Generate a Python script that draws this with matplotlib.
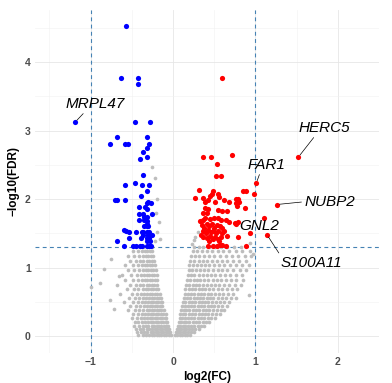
#!/usr/bin/env python3
"""Volcano plot: log2(FC) vs -log10(FDR) with labelled top genes."""

import numpy as np
import matplotlib
matplotlib.use("Agg")
import matplotlib.pyplot as plt

plt.rcParams["font.family"] = ["Liberation Sans", "DejaVu Sans"]

# ── Data ────────────────────────────────────────────────────────────────────
# significant, down (blue)
down_x = [-1.19, -0.57, -0.63, -0.43, -0.42, -0.46, -0.28,
          -0.68, -0.32, -0.76, -0.58, -0.55, -0.29, -0.31, -0.37, -0.40, -0.31,
          -0.36, -0.58, -0.46, -0.38, -0.29, -0.32, -0.39,
          -0.71, -0.68, -0.58,
          -0.41, -0.34, -0.32, -0.30, -0.27, -0.32,
          -0.41, -0.36, -0.26, -0.35, -0.31,
          -0.41, -0.35, -0.32,
          -0.31, -0.35, -0.32, -0.30,
          -0.59, -0.57, -0.53, -0.45, -0.38, -0.36, -0.32, -0.29,
          -0.36, -0.30, -0.26,
          -0.53, -0.39, -0.32, -0.29,
          -0.68, -0.31, -0.28,
          -0.60, -0.48, -0.45, -0.40, -0.38, -0.32, -0.29, -0.27]
down_y = [3.12, 4.53, 3.76, 3.76, 3.68, 3.12, 3.12,
          2.90, 2.90, 2.81, 2.81, 2.81, 2.81, 2.75, 2.69, 2.59, 2.61,
          2.35, 2.20, 2.23, 2.20, 2.21, 2.12, 2.05,
          1.99, 1.99, 1.99,
          1.88, 1.88, 1.94, 1.95, 1.94, 1.85,
          1.78, 1.78, 1.78, 1.74, 1.74,
          1.69, 1.69, 1.68,
          1.63, 1.60, 1.60, 1.60,
          1.55, 1.53, 1.52, 1.52, 1.52, 1.52, 1.52, 1.52,
          1.47, 1.47, 1.47,
          1.43, 1.43, 1.43, 1.43,
          1.39, 1.39, 1.39,
          1.32, 1.32, 1.32, 1.32, 1.32, 1.32, 1.32, 1.32]

# significant, up (red)
up_x = [1.52, 1.01, 1.26, 1.14, 1.10,
        0.60, 0.36, 0.46, 0.72, 0.53, 0.52, 0.58,
        0.31, 0.49, 0.47, 0.45, 0.85, 0.89, 0.98,
        0.27, 0.37, 0.43, 0.39, 0.54, 0.56, 0.51, 0.62, 0.68, 0.77, 0.79, 0.77, 0.80, 0.78,
        0.39, 0.43, 0.36, 0.41, 0.55, 0.60, 0.66, 0.87,
        0.33, 0.37, 0.39, 0.45, 0.50, 0.55, 0.58, 0.64, 0.68, 0.79, 0.77, 0.75,
        0.35, 0.38, 0.41, 0.44, 0.47, 0.50, 0.53, 0.57, 0.60,
        0.36, 0.40, 0.43, 0.46, 0.49, 0.52, 0.55, 0.59, 0.62,
        0.37, 0.41, 0.45, 0.48, 0.51, 0.54, 0.58, 0.34, 0.44, 0.56,
        0.66, 0.79, 0.94,
        0.43, 0.49, 0.53, 0.57, 0.60, 0.64, 0.88]
up_y = [2.61, 2.23, 1.92, 1.48, 1.72,
        3.76, 2.61, 2.61, 2.64, 2.51, 2.34, 2.34,
        2.13, 2.12, 2.07, 2.04, 2.12, 2.12, 2.08,
        2.01, 2.02, 1.99, 1.96, 2.07, 2.03, 1.96, 1.99, 1.95, 2.00, 2.00, 1.94, 1.96, 1.90,
        1.87, 1.86, 1.80, 1.80, 1.84, 1.82, 1.82, 1.87,
        1.68, 1.69, 1.72, 1.71, 1.72, 1.73, 1.69, 1.69, 1.67, 1.67, 1.63, 1.65,
        1.62, 1.58, 1.64, 1.60, 1.63, 1.58, 1.62, 1.60, 1.57,
        1.53, 1.50, 1.55, 1.52, 1.54, 1.50, 1.53, 1.50, 1.54,
        1.45, 1.43, 1.46, 1.42, 1.45, 1.42, 1.44, 1.48, 1.39, 1.38,
        1.46, 1.44, 1.50,
        1.31, 1.32, 1.32, 1.33, 1.33, 1.31, 1.31]

# not significant (grey)
gray_levels = [0.02, 0.06, 0.10, 0.15, 0.20, 0.26, 0.32, 0.38, 0.44, 0.50, 0.56,
               0.62, 0.68, 0.75, 0.82, 0.89, 0.96, 1.03, 1.10, 1.17, 1.24, 1.30]
gray_rows = [
    [-0.42, -0.37, -0.33, -0.29, -0.26, -0.23, -0.20, -0.17, -0.14, -0.11, -0.08, -0.05, -0.03,
     0.03, 0.05, 0.08, 0.11, 0.14, 0.17, 0.21],
    [-0.44, -0.39, -0.35, -0.31, -0.27, -0.24, -0.21, -0.18, -0.15, -0.12, -0.09, -0.06, -0.04,
     0.04, 0.06, 0.09, 0.12, 0.15, 0.18, 0.22, 0.25],
    [-0.45, -0.40, -0.36, -0.32, -0.29, -0.25, -0.22, -0.19, -0.16, -0.13, -0.10, -0.07, -0.05,
     0.05, 0.07, 0.10, 0.13, 0.16, 0.19, 0.23, 0.27, 0.31],
    [-0.47, -0.41, -0.37, -0.33, -0.30, -0.26, -0.23, -0.20, -0.17, -0.14, -0.11, -0.08, -0.06,
     0.06, 0.09, 0.12, 0.15, 0.18, 0.22, 0.26, 0.30, 0.34, 0.38],
    [-0.46, -0.42, -0.38, -0.34, -0.30, -0.27, -0.24, -0.21, -0.18, -0.15, -0.12, -0.09, -0.07,
     0.07, 0.10, 0.13, 0.16, 0.20, 0.24, 0.28, 0.32, 0.36, 0.40, 0.44],
    [-0.50, -0.44, -0.39, -0.35, -0.31, -0.28, -0.25, -0.22, -0.19, -0.16, -0.13, -0.10, -0.08,
     0.08, 0.11, 0.14, 0.18, 0.22, 0.26, 0.30, 0.34, 0.38, 0.42, 0.46, 0.51],
    [-0.48, -0.43, -0.38, -0.34, -0.30, -0.27, -0.24, -0.21, -0.18, -0.15, -0.12, -0.09,
     0.09, 0.12, 0.15, 0.19, 0.23, 0.27, 0.31, 0.35, 0.39, 0.43, 0.47, 0.52, 0.57],
    [-0.55, -0.46, -0.41, -0.36, -0.32, -0.29, -0.26, -0.23, -0.20, -0.17, -0.14, -0.11,
     0.10, 0.13, 0.16, 0.20, 0.24, 0.28, 0.32, 0.36, 0.40, 0.44, 0.48, 0.53, 0.58, 0.62],
    [-0.52, -0.45, -0.40, -0.35, -0.31, -0.28, -0.25, -0.22, -0.19, -0.16, -0.13,
     0.11, 0.14, 0.18, 0.22, 0.26, 0.30, 0.34, 0.38, 0.42, 0.46, 0.50, 0.55, 0.60, 0.66],
    [-0.60, -0.49, -0.43, -0.38, -0.34, -0.30, -0.27, -0.24, -0.21, -0.18, -0.15, -0.13,
     0.12, 0.15, 0.19, 0.23, 0.27, 0.31, 0.35, 0.39, 0.43, 0.47, 0.52, 0.57, 0.62, 0.68],
    [-0.54, -0.46, -0.41, -0.37, -0.33, -0.29, -0.26, -0.23, -0.20, -0.17, -0.14,
     0.13, 0.17, 0.21, 0.25, 0.29, 0.33, 0.37, 0.41, 0.45, 0.49, 0.54, 0.59, 0.64, 0.70, 0.76],
    [-0.64, -0.50, -0.44, -0.39, -0.35, -0.31, -0.28, -0.25, -0.22, -0.19, -0.16,
     0.14, 0.18, 0.22, 0.26, 0.30, 0.34, 0.38, 0.42, 0.46, 0.51, 0.56, 0.61, 0.67, 0.73],
    [-0.56, -0.47, -0.42, -0.37, -0.33, -0.30, -0.27, -0.24, -0.21, -0.18,
     0.15, 0.19, 0.23, 0.27, 0.31, 0.35, 0.39, 0.44, 0.49, 0.54, 0.59, 0.65, 0.71, 0.78],
    [-0.68, -0.52, -0.45, -0.40, -0.36, -0.32, -0.29, -0.26, -0.23, -0.20,
     0.16, 0.20, 0.24, 0.28, 0.32, 0.36, 0.41, 0.46, 0.51, 0.56, 0.62, 0.68, 0.75, 0.82],
    [-0.58, -0.48, -0.42, -0.38, -0.34, -0.31, -0.28, -0.25, -0.22, -0.19,
     0.17, 0.21, 0.25, 0.29, 0.33, 0.38, 0.43, 0.48, 0.53, 0.58, 0.64, 0.70, 0.77, 0.85],
    [-0.62, -0.51, -0.44, -0.39, -0.35, -0.32, -0.29, -0.26, -0.23, -0.20,
     0.18, 0.22, 0.26, 0.31, 0.36, 0.41, 0.46, 0.51, 0.57, 0.63, 0.69, 0.76, 0.84],
    [-0.55, -0.47, -0.41, -0.37, -0.33, -0.30, -0.27, -0.24, -0.21,
     0.19, 0.23, 0.28, 0.33, 0.38, 0.43, 0.48, 0.54, 0.60, 0.66, 0.73, 0.81, 0.89],
    [-0.58, -0.49, -0.43, -0.38, -0.34, -0.31, -0.28, -0.25, -0.22,
     0.20, 0.24, 0.29, 0.34, 0.39, 0.44, 0.50, 0.56, 0.62, 0.69, 0.76, 0.84, 0.92],
    [-0.52, -0.45, -0.40, -0.36, -0.32, -0.29, -0.26, -0.23,
     0.21, 0.26, 0.31, 0.36, 0.41, 0.47, 0.53, 0.59, 0.66, 0.73, 0.80, 0.88],
    [-0.55, -0.47, -0.41, -0.37, -0.33, -0.30, -0.27, -0.24,
     0.22, 0.27, 0.32, 0.38, 0.44, 0.50, 0.57, 0.64, 0.71, 0.79, 0.87, 0.95],
    [-0.49, -0.43, -0.38, -0.34, -0.31, -0.28, -0.25,
     0.24, 0.29, 0.35, 0.41, 0.47, 0.54, 0.61, 0.68, 0.76, 0.84, 0.93],
    [-0.45, -0.40, -0.36, -0.32, -0.29, -0.26,
     0.26, 0.31, 0.37, 0.44, 0.51, 0.58, 0.66, 0.74, 0.83],
]
gray_extra_x = [-0.99, -0.89, -0.77, -0.84, -0.72, -0.66, -0.75, 0.97, 0.92, 0.93,
                -0.25, -0.22, -0.20, -0.17, -0.21, -0.19, -0.16, -0.22, 0.27, 0.25, 0.30, 0.23]
gray_extra_y = [0.72, 0.78, 0.53, 0.98, 0.40, 0.88, 1.12, 1.20, 0.60, 1.36,
                2.47, 2.31, 2.00, 1.67, 1.80, 1.52, 1.42, 1.38, 1.45, 1.40, 1.52, 1.35]

# labelled genes: name, point, text centre, segment anchor on the text box
label_names = ["MRPL47", "HERC5", "FAR1", "NUBP2", "GNL2", "S100A11"]
label_pts = [(-1.19, 3.12), (1.52, 2.61), (1.01, 2.23), (1.26, 1.92), (1.10, 1.72), (1.14, 1.48)]
label_txt = [(-0.95, 3.39), (1.84, 3.04), (1.13, 2.50), (1.90, 1.96), (1.04, 1.61), (1.68, 1.07)]
label_rel = [(0.35, 0.0), (0.33, 0.0), (0.35, 0.0), (0.0, 0.5), None, (0.0, 1.0)]

fc_cut = 1.0
fdr_cut = -np.log10(0.05)


def main():
    gx = [x for row in gray_rows for x in row] + gray_extra_x
    gy = [y for y, row in zip(gray_levels, gray_rows) for _ in row] + gray_extra_y

    fig = plt.figure(figsize=(3.92, 3.83), dpi=100)
    ax = fig.add_axes([35 / 392, 30 / 383, 344 / 392, 343 / 383])

    ax.scatter(gx, gy, s=7, color="#bdbdbd", linewidths=0, zorder=2)
    ax.scatter(down_x, down_y, s=14, color="#0000ff", linewidths=0, zorder=3)
    ax.scatter(up_x, up_y, s=14, color="#ff0000", linewidths=0, zorder=3)

    dash = dict(color="#4682b4", linewidth=0.8, linestyle=(0, (3.5, 3)), zorder=1.5)
    ax.axvline(-fc_cut, **dash)
    ax.axvline(fc_cut, **dash)
    ax.axhline(fdr_cut, **dash)

    for name, pt, txt, rel in zip(label_names, label_pts, label_txt, label_rel):
        kw = dict(ha="center", va="center", fontsize=11, style="italic", zorder=4)
        if rel is None:
            ax.annotate(name, xy=pt, xytext=txt, **kw)
        else:
            ax.annotate(name, xy=pt, xytext=txt,
                        arrowprops=dict(arrowstyle="-", color="black", lw=0.5,
                                        relpos=rel, shrinkA=0, shrinkB=2),
                        **kw)

    ax.set_xlim(-1.675, 2.495)
    ax.set_ylim(-0.248, 4.76)
    ax.set_xticks([-1, 0, 1, 2])
    ax.set_xticklabels(["\u22121", "0", "1", "2"])
    ax.set_yticks([0, 1, 2, 3, 4])
    ax.set_xticks([-1.5, -0.5, 0.5, 1.5, 2.5], minor=True)
    ax.set_yticks([0.5, 1.5, 2.5, 3.5, 4.5], minor=True)
    ax.grid(True, which="major", color="#e6e6e6", linewidth=0.6, zorder=0)
    ax.grid(True, which="minor", color="#f1f1f1", linewidth=0.4, zorder=0)
    ax.set_axisbelow(True)
    for sp in ax.spines.values():
        sp.set_visible(False)
    ax.tick_params(which="both", length=0)
    ax.tick_params(axis="x", pad=3)
    ax.tick_params(axis="y", pad=3)
    for lab in ax.get_xticklabels() + ax.get_yticklabels():
        lab.set_fontsize(7.5)
        lab.set_fontweight("bold")
        lab.set_color("#4d4d4d")

    ax.set_xlabel("log2(FC)", fontsize=8.5, fontweight="bold", labelpad=3)
    ax.set_ylabel("\u2212log10(FDR)", fontsize=8.5, fontweight="bold", labelpad=4)

    fig.savefig("out.png", dpi=100)


if __name__ == "__main__":
    main()
